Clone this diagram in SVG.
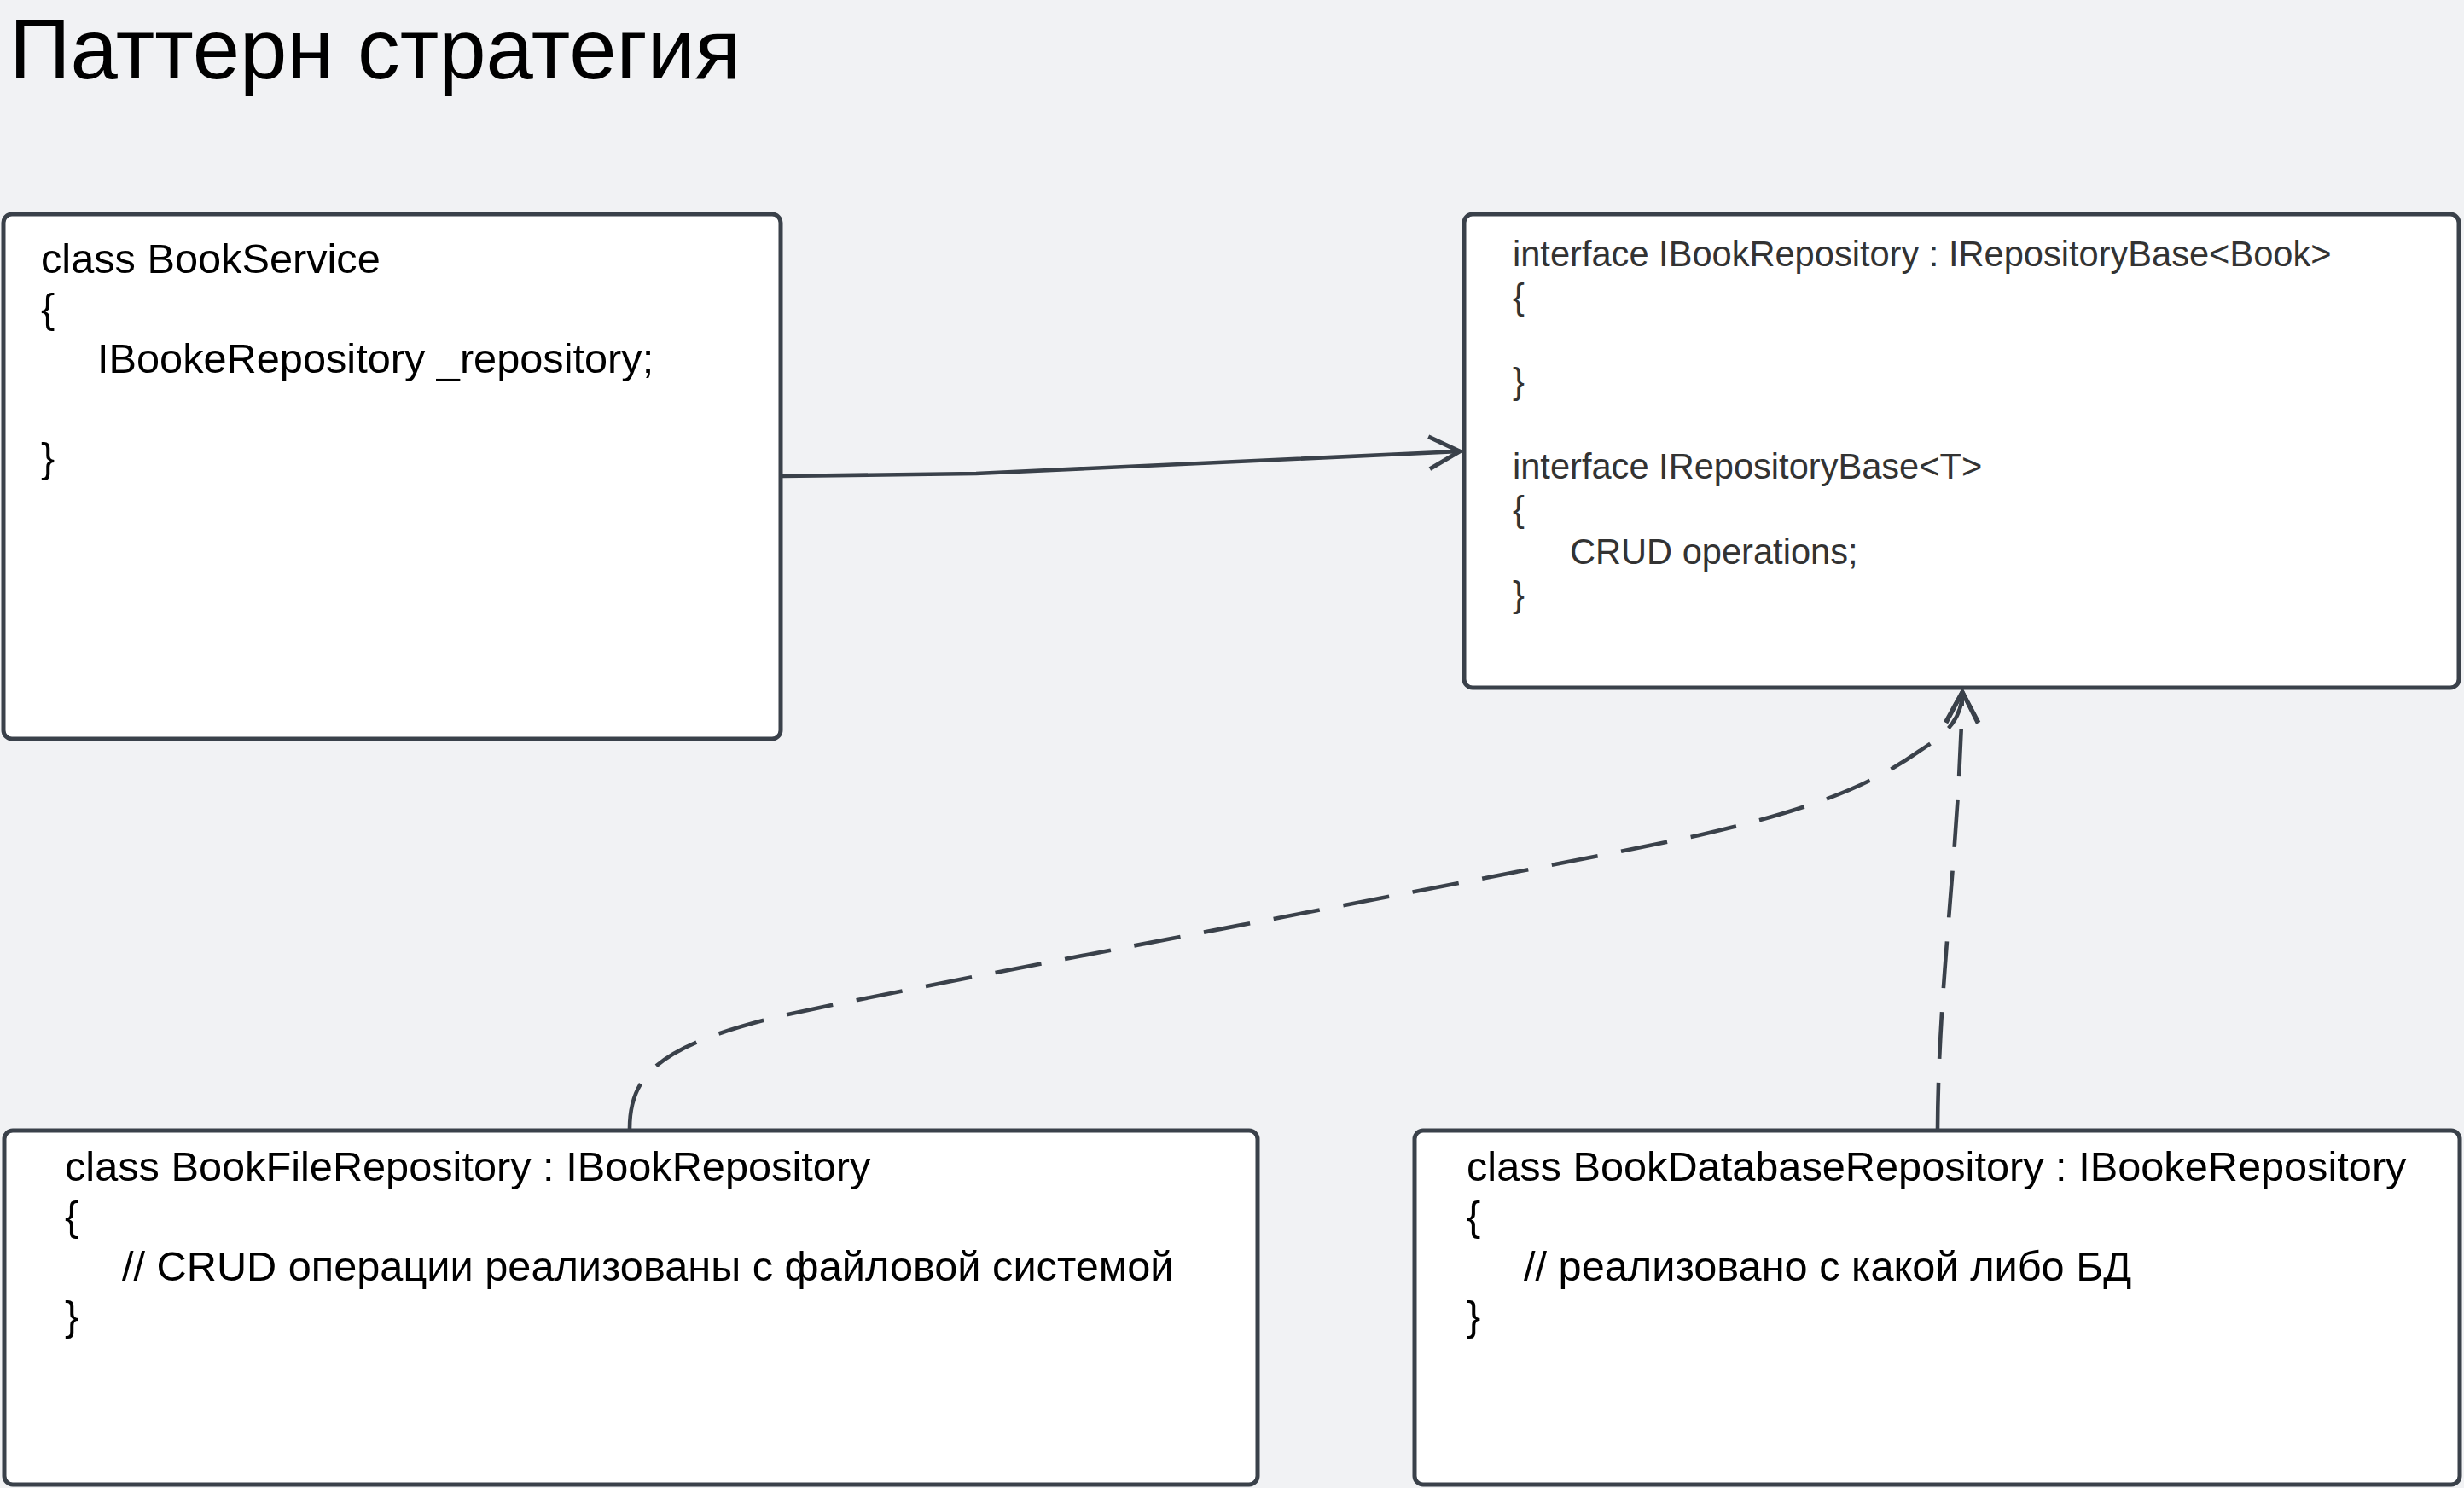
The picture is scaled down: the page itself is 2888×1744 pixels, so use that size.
<svg xmlns="http://www.w3.org/2000/svg" width="2888" height="1744" viewBox="0 0 2888 1744">
<style>
.box{fill:#ffffff;stroke:#3a414a;stroke-width:5}
.t{font-family:"Liberation Sans",Arial,sans-serif;font-size:48.7px;fill:#000000}
.ti{font-family:"Liberation Sans",Arial,sans-serif;font-size:41.6px;fill:#333333}
.title{font-family:"Liberation Sans",Arial,sans-serif;font-size:99.5px;fill:#000000}
.con{fill:none;stroke:#3a414a;stroke-width:4.6}
.dash{stroke-dasharray:55 28}
</style>
<defs>
<marker id="openArrow" markerUnits="userSpaceOnUse" markerWidth="60" markerHeight="60" viewBox="-50 -30 60 60" refX="0" refY="0" orient="auto" overflow="visible">
<path d="M -36 -19 L 0 0 L -36 19" fill="none" stroke="#3a414a" stroke-width="5" stroke-dasharray="none"/>
</marker>
</defs>
<rect x="0" y="0" width="2888" height="1744" fill="#f1f2f4"/>
<text class="title" x="11" y="92">Паттерн стратегия</text>

<g id="connectors">
<path class="con" d="M 917 558 L 1144 555 L 1711 529" marker-end="url(#openArrow)"/>
<path class="con dash" d="M 738 1323 C 738 1258, 775 1225, 914 1191 C 1100 1150, 1800 1020, 1991 979 C 2140 945, 2200 915, 2250 880 C 2285 858, 2300 840, 2300 811" marker-end="url(#openArrow)"/>
<path class="con dash" d="M 2271 1324 C 2272 1150, 2296 1000, 2300 811" marker-end="url(#openArrow)"/>
</g>

<g id="BookService">
<rect class="box" x="4" y="251" width="911" height="615" rx="10"/>
<text class="t" x="48" y="320">class BookService</text>
<text class="t" x="48" y="378">{</text>
<text class="t" x="114" y="437">IBookeRepository _repository;</text>
<text class="t" x="48" y="553">}</text>
</g>

<g id="IBookRepository">
<rect class="box" x="1716" y="251" width="1166" height="555" rx="10"/>
<text class="ti" x="1773" y="312">interface IBookRepository : IRepositoryBase&lt;Book&gt;</text>
<text class="ti" x="1773" y="362">{</text>
<text class="ti" x="1773" y="461">}</text>
<text class="ti" x="1773" y="561">interface IRepositoryBase&lt;T&gt;</text>
<text class="ti" x="1773" y="611">{</text>
<text class="ti" x="1840" y="661">CRUD operations;</text>
<text class="ti" x="1773" y="711">}</text>
</g>

<g id="BookFileRepository">
<rect class="box" x="5" y="1325" width="1469" height="415" rx="10"/>
<text class="t" x="76" y="1384">class BookFileRepository : IBookRepository</text>
<text class="t" x="76" y="1442">{</text>
<text class="t" x="143" y="1501">// CRUD операции реализованы с файловой системой</text>
<text class="t" x="76" y="1559">}</text>
</g>

<g id="BookDatabaseRepository">
<rect class="box" x="1658" y="1325" width="1225" height="415" rx="10"/>
<text class="t" x="1719" y="1384">class BookDatabaseRepository : IBookeRepository</text>
<text class="t" x="1719" y="1442">{</text>
<text class="t" x="1786" y="1501">// реализовано с какой либо БД</text>
<text class="t" x="1719" y="1559">}</text>
</g>
</svg>
